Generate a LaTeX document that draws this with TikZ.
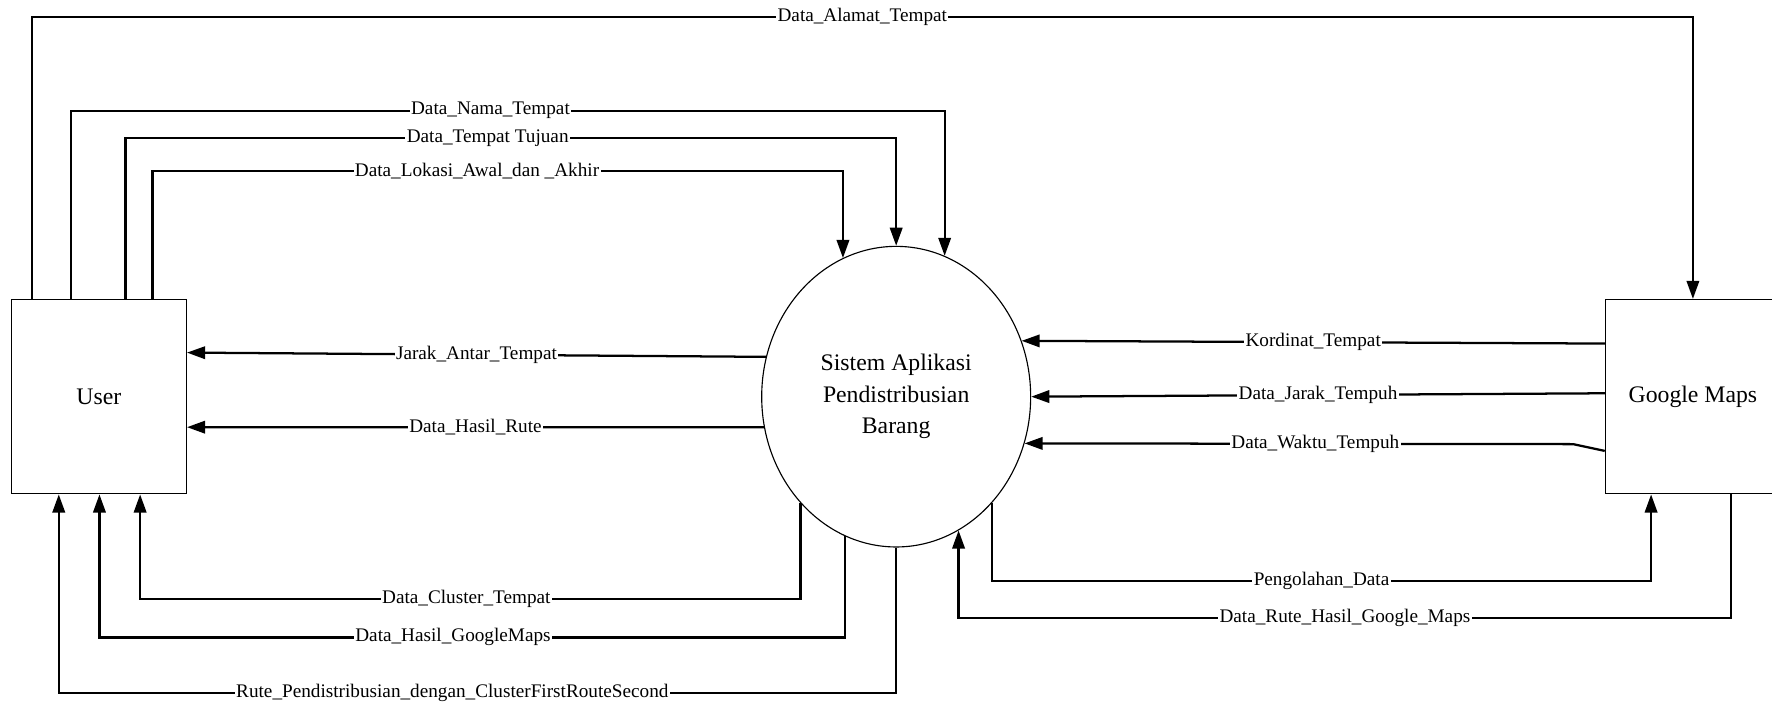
\documentclass[tikz,border=0pt]{standalone}
\usepackage{fontspec}
\setmainfont{Liberation Serif}
\usepackage{tikz}
\usetikzlibrary{arrows.meta,positioning,shapes.geometric}

\tikzset{
  entity/.style={draw, line width=0.5pt, minimum width=77.5pt, minimum height=86pt, font=\fontsize{10.5}{12}\selectfont},
  proc/.style={draw, line width=0.5pt, ellipse, minimum width=119pt, minimum height=133pt, inner sep=0pt, align=center, font=\fontsize{10.5}{14}\selectfont},
  flow/.style={line width=1pt, -{Triangle[length=8pt,width=5.5pt]}},
  lbl/.style={fill=white, inner sep=0.6pt, font=\fontsize{8.5}{10}\selectfont},
}

\begin{document}
\begin{tikzpicture}[x=0.5pt, y=-0.5pt]
  \useasboundingbox (0,0) rectangle (1568,626);
  \clip (0,0) rectangle (1568,626);

  \node[entity] (user) at (87.5,351) {User};
  \node[proc] (sys) at (793,351) {Sistem Aplikasi\\Pendistribusian\\Barang};
  \node[entity] (gmaps) at (1498,351) {Google Maps};

  % user -> sistem / google maps (atas)
  \draw[flow] (user.north -| 28,0) -- (28,15) -| node[lbl,pos=.25]{Data\_Alamat\_Tempat} (gmaps.north);
  \draw[flow] (user.north -| 63,0) -- (63,98) -| node[lbl,pos=.24]{Data\_Nama\_Tempat} (sys.71);
  \draw[flow] (user.north -| 111,0) -- (111,122) -| node[lbl,pos=.235]{Data\_Tempat Tujuan} (sys.north);
  \draw[flow] (user.north -| 135,0) -- (135,151) -| node[lbl,pos=.235]{Data\_Lokasi\_Awal\_dan \_Akhir} (sys.111);

  % sistem -> user
  \draw[flow] (sys.163) -- node[lbl]{Jarak\_Antar\_Tempat} (user.east |- 0,312);
  \draw[flow] (sys.193) -- node[lbl]{Data\_Hasil\_Rute} (user.east |- 0,378);
  \draw[flow] (sys.228) |- node[lbl,pos=.753]{Data\_Cluster\_Tempat} (124,530) -- (user.south -| 124,0);
  \draw[flow] (sys.250) |- node[lbl,pos=.763]{Data\_Hasil\_GoogleMaps} (88,564) -- (user.south -| 88,0);
  \draw[flow] (sys.south) |- node[lbl,pos=.765]{Rute\_Pendistribusian\_dengan\_ClusterFirstRouteSecond} (52,613) -- (user.south -| 52,0);

  % google maps <-> sistem
  \draw[flow] (gmaps.west |- 0,304) -- node[lbl]{Kordinat\_Tempat} (sys.24);
  \draw[flow] (gmaps.west |- 0,348) -- node[lbl]{Data\_Jarak\_Tempuh} (sys.east);
  \draw[flow] (gmaps.west |- 0,399) -- (1392,393) -- node[lbl,pos=.47]{Data\_Waktu\_Tempuh} (sys.340);
  \draw[flow] (sys.312) |- node[lbl,pos=.75]{Pengolahan\_Data} (1461,514) -- (gmaps.south -| 1461,0);
  \draw[flow] (gmaps.south -| 1532,0) -- (1532,547) -| node[lbl,pos=.25]{Data\_Rute\_Hasil\_Google\_Maps} (sys.295);
\end{tikzpicture}
\end{document}
